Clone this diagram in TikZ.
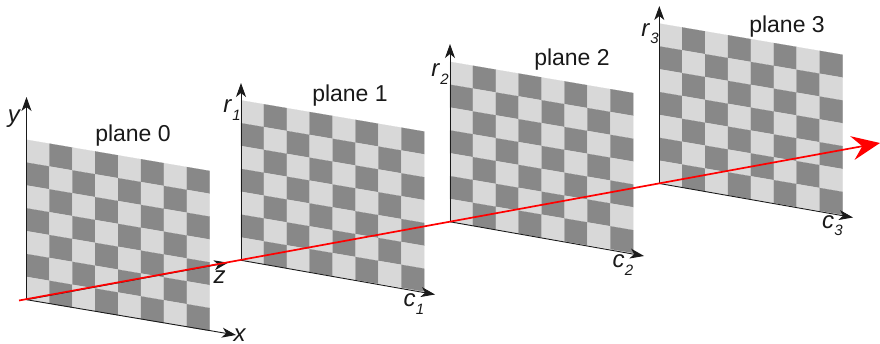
\documentclass[tikz,border=0pt]{standalone}
\usepackage{fontspec}
\setmainfont{Liberation Sans}
\usetikzlibrary{arrows.meta}
\definecolor{celllight}{HTML}{D8D8D8}
\definecolor{celldark}{HTML}{888888}
\definecolor{axisgray}{HTML}{1A1A1A}
\newcommand{\axlbl}[2]{\textit{#1}\kern0.3pt\raisebox{-0.3em}{\fontsize{15}{15}\selectfont\textit{#2}}}
\tikzset{
  axisline/.style={draw=axisgray,line width=0.9pt,-{Stealth[length=14pt,width=10pt,inset=4pt]}},
  redline/.style={draw=red,line width=1.7pt,-{Stealth[length=28pt,width=24pt,inset=10pt]}},
  lbl/.style={font=\fontsize{23}{23}\selectfont,text=black!90,inner sep=0pt,anchor=center},
  axtxt/.style={font=\fontsize{24}{24}\selectfont,text=black!90,inner sep=0pt,anchor=center}
}
\begin{document}
\begin{tikzpicture}[x=1pt,y=-1pt]
\useasboundingbox (0,0) rectangle (880,344);
\clip (0,0) rectangle (880,344);
% checkerboards: origin x, origin y (bottom-left corner of each plane)
\foreach \ox/\oy in {26.5/299.7, 241/260.3, 450/221.8, 659.3/183.5}{
  \foreach \c in {0,...,7}{
    \foreach \r in {0,...,6}{
      \pgfmathtruncatemacro{\cellpar}{mod(\c+\r,2)}
      \ifnum\cellpar=0 \def\cellc{celllight}\else\def\cellc{celldark}\fi
      \pgfmathsetmacro{\xa}{\ox+\c*22.9}
      \pgfmathsetmacro{\xb}{\ox+(\c+1)*22.9}
      \pgfmathsetmacro{\ya}{\oy-160+\r*22.86+\c*3.9}
      \pgfmathsetmacro{\yb}{\oy-160+\r*22.86+(\c+1)*3.9}
      \fill[\cellc,draw=\cellc,line width=0.1pt] (\xa,\ya) -- (\xb,\yb) -- (\xb,\yb+22.86) -- (\xa,\ya+22.86) -- cycle;
    }
  }
}
% axis end points
\coordinate (o0) at (26.5,299.7);
\coordinate (o1) at (241,260.3);
\coordinate (o2) at (450,221.8);
\coordinate (o3) at (659.3,183.5);
\coordinate (y0) at (26.5,97);
\coordinate (r1) at (241,83);
\coordinate (r2) at (450,44);
\coordinate (r3) at (659.3,6);
\coordinate (x0) at (236,335);
\coordinate (c1) at (435,294.5);
\coordinate (c2) at (644,256);
\coordinate (c3) at (853,217.5);
\coordinate (z0) at (228,262.7);
\coordinate (rs) at (19,300.5);
\coordinate (re) at (880,143);
\foreach \a/\b in {o0/y0,o0/x0,o0/z0,o1/r1,o1/c1,o2/r2,o2/c2,o3/r3,o3/c3}
  \draw[axisline] (\a) -- (\b);
\draw[redline] (rs) -- (re);
% labels
\node[lbl] (p0) at (133,136) {plane 0};
\node[lbl] (p1) at (350,95.5) {plane 1};
\node[lbl] (p2) at (572,60) {plane 2};
\node[lbl] (p3) at (787,26.5) {plane 3};
\node[axtxt] (ly) at (14.5,119) {\textit{y}};
\node[axtxt] (lz) at (219.5,277.5) {\textit{z}};
\node[axtxt] (lx) at (240,335) {\textit{x}};
\node[axtxt] (lr1) at (232,110) {\axlbl{r}{1}};
\node[axtxt] (lr2) at (440,74) {\axlbl{r}{2}};
\node[axtxt] (lr3) at (650,34) {\axlbl{r}{3}};
\node[axtxt] (lc1) at (414,304) {\axlbl{c}{1}};
\node[axtxt] (lc2) at (623,265) {\axlbl{c}{2}};
\node[axtxt] (lc3) at (832.5,226) {\axlbl{c}{3}};
\end{tikzpicture}
\end{document}
